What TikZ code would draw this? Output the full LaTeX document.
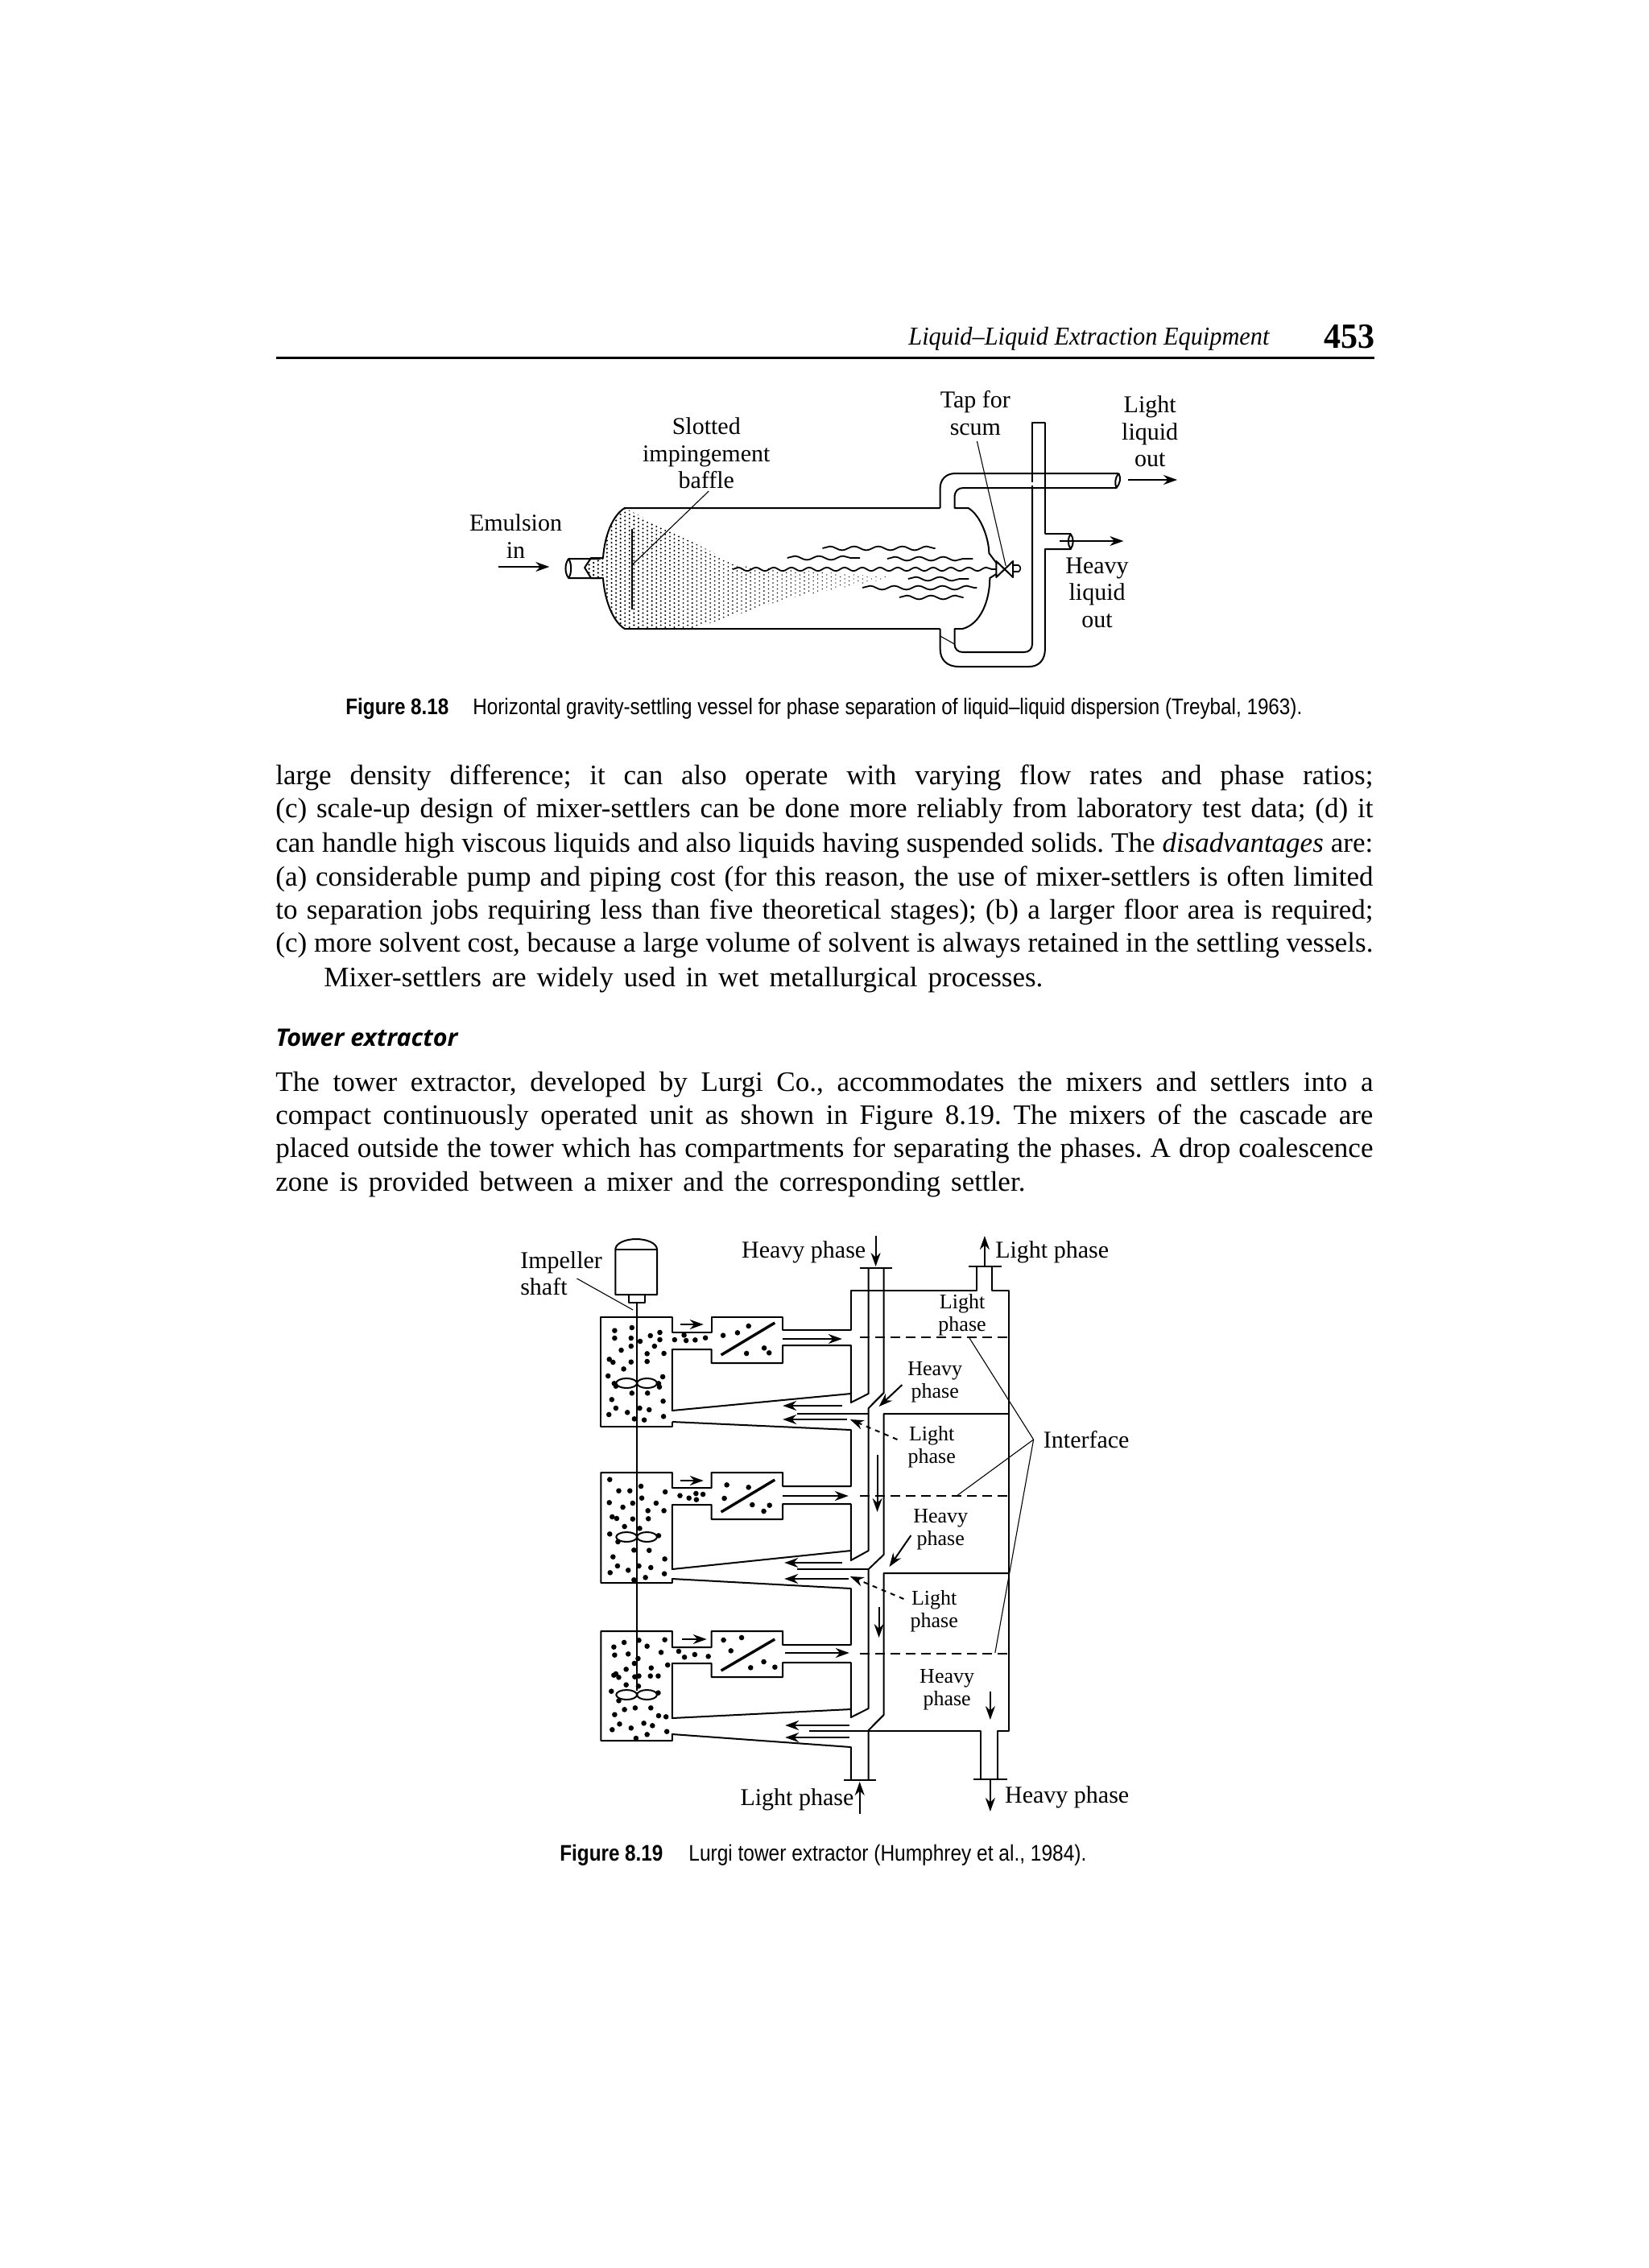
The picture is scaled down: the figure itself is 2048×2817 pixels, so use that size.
\documentclass[tikz,border=0pt]{standalone}
\usepackage{fontspec}
\usepackage{graphicx}
\setmainfont{Liberation Serif}
\newfontfamily\capfont{Liberation Sans}
\newfontfamily\headfont{Open Sans}
\usetikzlibrary{arrows.meta,decorations.pathmorphing}
\newlength\pxu \pxu=0.5pt
\newcommand{\bodyfont}{\fontsize{17.5}{21}\selectfont\frenchspacing\spaceskip=.25em plus 1em minus .1em\relax}
\newcommand{\bodyline}[4][1363]{\node[anchor=base west,inner sep=0,font=\bodyfont] (#2) at (342,#3) {\hbox to #1\pxu{#4}};}
\newcommand{\shortline}[5]{\node[anchor=base west,inner sep=0,font=\bodyfont] (#1) at (#2,#3) {\hbox to #4\pxu{#5}};}
\newcommand{\fitnode}[6]{\node[anchor=base west,inner sep=0,font=#5] (#1) at (#2,#3) {\resizebox{#4\pxu}{\height}{#6}};}
\newcommand{\blobsA}[1]{\foreach \X/\Y in {#1}{\fill ({620+\X/1.95},{1510+\Y/3}) circle[radius=3.3];}}
\newcommand{\blobsB}[1]{\foreach \X/\Y in {#1}{\fill ({620+\X/1.95},{1960+\Y/3}) circle[radius=3.3];}}
\newcommand{\impel}[1]{\draw[pipe] (779,#1) ellipse[x radius=13,y radius=6]; \draw[pipe] (804.5,#1) ellipse[x radius=12.5,y radius=6];}
\tikzset{
 pipe/.style={draw=black,line width=1pt,line join=round},
 fine/.style={draw=black,line width=.55pt},
 hv/.style={draw=black,line width=1.2pt},
 flow/.style={draw=black,line width=1pt,-{Stealth[length=8.5pt,width=6pt]}},
 lab/.style={inner sep=0,align=center,font=\fontsize{15}{16.7}\selectfont},
 sm/.style={inner sep=0,align=center,font=\fontsize{13}{14}\selectfont},
 wav/.style={draw=black,line width=.9pt,decorate,decoration={snake,segment length=15pt,amplitude=1.2pt}},
}
\begin{document}
\begin{tikzpicture}[x=0.5pt,y=-0.5pt]
\path[use as bounding box,fill=white] (0,0) rectangle (2048,2817);
% header
\fitnode{hd}{1128}{428}{448}{\fontsize{16}{18}\selectfont\itshape}{Liquid–Liquid Extraction Equipment}
\fitnode{pg}{1644}{432}{63}{\fontsize{22}{24}\selectfont\bfseries}{453}
\draw[line width=1.5pt] (343,444) -- (1707,444);
% FIGURE 8.18
\begin{scope}[x=0.49725pt,xshift=1.54pt]
\begin{scope}
\clip (777,631) -- (861,673) -- (921,703) -- (1114,717) -- (982,743) -- (861,781) -- (777,781) .. controls (762,772) and (752,745) .. (750,717) -- (735,718) -- (727,705) -- (735,693) -- (750,693) .. controls (752,665) and (762,640) .. (777,631) -- cycle;
\foreach \i in {0,...,70}{\foreach \j in {0,...,31}{
 \pgfmathsetmacro\xx{727+5.6*\i}\pgfmathsetmacro\yy{629+5*\j+2.5*mod(\i,2)}\pgfmathsetmacro\rr{1.3-0.7*\i/70}
 \fill[black] (\xx,\yy) circle[radius=\rr];}}
\end{scope}
% vessel
\draw[pipe] (1171,631) -- (777,631) .. controls (762,640) and (752,665) .. (750,693) -- (735,693) -- (727,705) -- (735,718) -- (750,718) .. controls (752,745) and (762,772) .. (777,781) -- (1171,781);
\draw[pipe] (747,694) -- (707,694) .. controls (702,700) and (702,712) .. (707,718) -- (747,718);
\draw[pipe] (707,694) .. controls (711,700) and (711,712) .. (707,718);
\draw[pipe] (1171,631) -- (1171,606) .. controls (1171,596) and (1178,588) .. (1190,588) -- (1394,588);
\draw[pipe] (1394,588) .. controls (1389,594) and (1389,600) .. (1391,606) -- (1200,606) .. controls (1193,606) and (1189,610) .. (1189,618) -- (1189,631) -- (1206,631) .. controls (1222,640) and (1232,670) .. (1232,687) -- (1241,699);
\draw[pipe] (1394,588) .. controls (1397,594) and (1396,600) .. (1391,606);
\draw[pipe] (1241,713) -- (1233,718) .. controls (1233,745) and (1222,775) .. (1199,781) -- (1189,781) -- (1189,800) .. controls (1189,806) and (1193,810) .. (1199,810) -- (1276,810) .. controls (1282,810) and (1286,806) .. (1286,800) -- (1286,606);
\draw[pipe] (1286,588) -- (1286,525) -- (1302,525) -- (1302,663) -- (1334,663);
\draw[pipe,dash pattern=on 5pt off 2pt] (1286,589) -- (1286,605);
\draw[pipe] (1334,663) .. controls (1330,669) and (1330,676) .. (1334,682) -- (1302,682) -- (1302,806) .. controls (1302,820) and (1294,828) .. (1282,828) -- (1194,828) .. controls (1180,828) and (1171,820) .. (1171,806) -- (1171,781);
\draw[pipe] (1334,663) .. controls (1338,669) and (1338,676) .. (1334,682);
\draw[fine] (1171,790) -- (1189,800);
\draw[pipe,dash pattern=on 5pt off 2pt] (1302,589) -- (1302,605);
\draw[pipe] (1241,697) -- (1262,717) -- (1262,697) -- (1241,717) -- cycle;
\draw[pipe,line width=.8pt] (1262,702) -- (1269,702) .. controls (1272,704) and (1272,708) .. (1269,710) -- (1262,710);
\draw[hv] (786,657) -- (786,757);
\draw[fine] (786,702) -- (882,610);
\draw[fine] (1217,548) -- (1253,703);
\draw[wav] (1024,681) -- (1165,681);
\draw[wav] (980,693) -- (1071,693);
\draw[wav] (1105,694) -- (1212,694);
\draw[wav,decoration={snake,segment length=11pt,amplitude=1.1pt}] (912,707) -- (1241,707);
\draw[wav] (1131,719) -- (1207,719);
\draw[wav] (1074,730) -- (1217,730);
\draw[wav] (1120,742) -- (1200,742);
\draw[flow] (619,704) -- (683,704);
\draw[flow] (1406,596) -- (1467,596);
\draw[flow] (1320,672) -- (1400,672);
\node[lab] (emul) at (641,666) {Emulsion\\in};
\node[lab] (slot) at (879,563) {Slotted\\impingement\\baffle};
\node[lab] (tap) at (1215,513) {Tap for\\scum};
\node[lab] (lightout) at (1433,536) {Light\\liquid\\out};
\node[lab] (heavyout) at (1367,736) {Heavy\\liquid\\out};
\end{scope}
% caption 8.18
\fitnode{c1a}{429}{887}{128}{\fontsize{14}{16}\selectfont\capfont\bfseries}{Figure 8.18}
\fitnode{c1b}{587}{887}{1030}{\fontsize{14}{16}\selectfont\capfont}{Horizontal gravity-settling vessel for phase separation of liquid–liquid dispersion (Treybal, 1963).}
% body
\bodyline{l1}{974}{large density difference; it can also operate with varying flow rates and phase ratios;}
\bodyline{l2}{1015}{(c) scale-up design of mixer-settlers can be done more reliably from laboratory test data; (d) it}
\bodyline{l3}{1058}{can handle high viscous liquids and also liquids having suspended solids. The \textit{disadvantages} are:}
\bodyline{l4}{1100}{(a) considerable pump and piping cost (for this reason, the use of mixer-settlers is often limited}
\bodyline{l5}{1141}{to separation jobs requiring less than five theoretical stages); (b) a larger floor area is required;}
\bodyline{l6}{1182}{(c) more solvent cost, because a large volume of solvent is always retained in the settling vessels.}
\shortline{l7}{402}{1225}{893}{Mixer-settlers are widely used in wet metallurgical processes.}
\fitnode{th}{342}{1299}{226}{\fontsize{15}{18}\selectfont\headfont\bfseries\itshape}{Tower extractor}
\bodyline{l8}{1355}{The tower extractor, developed by Lurgi Co., accommodates the mixers and settlers into a}
\bodyline{l9}{1396}{compact continuously operated unit as shown in Figure 8.19. The mixers of the cascade are}
\bodyline{l10}{1437}{placed outside the tower which has compartments for separating the phases. A drop coalescence}
\shortline{l11}{342}{1479}{931}{zone is provided between a mixer and the corresponding settler.}
% FIGURE 8.19
\begin{scope}[x=0.49745pt,xshift=1.58pt]
% motor and shaft
\draw[pipe] (765,1608) -- (765,1552) .. controls (765,1544) and (778,1539) .. (791,1539) .. controls (804,1539) and (817,1544) .. (817,1552) -- (817,1608) -- cycle;
\draw[pipe] (765,1552) -- (817,1552);
\draw[pipe] (782,1608) rectangle (802,1618);
\draw[pipe,line width=.8pt] (792,1618) -- (792,2100);
\impel{1718}\impel{1909}\impel{2105}
% stage 1
\draw[pipe] (1216,1573) -- (1216,1603) -- (1059,1603) -- (1059,1652) -- (974,1652) -- (974,1636) -- (885,1636) -- (885,1655) -- (836,1655) -- (836,1636) -- (747,1636) -- (747,1772) -- (836,1772) -- (836,1766);
\draw[pipe] (1059,1731) -- (836,1752) -- (836,1676) -- (885,1676) -- (885,1693) -- (974,1693) -- (974,1671) -- (1059,1671) -- (1059,1742) -- (1081,1731) -- (1081,1575);
\draw[pipe] (1100,1575) -- (1100,1730) -- (1081,1749) -- (1081,1926) -- (1059,1938) -- (1059,1868) -- (974,1868) -- (974,1887) -- (885,1887) -- (885,1869) -- (836,1869) -- (836,1949) -- (1059,1926);
\draw[pipe] (836,1766) -- (1059,1776) -- (1059,1846) -- (974,1846) -- (974,1829) -- (885,1829) -- (885,1848) -- (836,1848) -- (836,1829) -- (747,1829) -- (747,1966) -- (836,1966) -- (836,1961) -- (1059,1973) -- (1059,2043) -- (974,2043) -- (974,2026) -- (885,2026) -- (885,2046) -- (836,2046) -- (836,2026) -- (747,2026) -- (747,2162) -- (836,2162) -- (836,2154) -- (1059,2170) -- (1059,2211);
\draw[pipe] (992,1756) -- (1081,1756);
\draw[pipe] (1256,1756) -- (1100,1756) -- (1100,1931) -- (1081,1949) -- (1081,2122) -- (1059,2133) -- (1059,2065) -- (974,2065) -- (974,2083) -- (885,2083) -- (885,2066) -- (836,2066) -- (836,2134) -- (1059,2123);
\draw[pipe] (992,1949) -- (1081,1949);
\draw[pipe] (1256,1954) -- (1100,1954) -- (1100,2130) -- (1081,2149) -- (1081,2211);
\draw[pipe] (1007,2150) -- (1221,2150) -- (1221,2210);
\draw[pipe] (1235,1573) -- (1235,1603) -- (1256,1603) -- (1256,2150) -- (1242,2150) -- (1242,2210);
\draw[pipe,line width=1.3pt] (1070,1575) -- (1110,1575);
\draw[pipe,line width=1.3pt] (1206,1573) -- (1247,1573);
\draw[pipe,line width=1.3pt] (1050,2211) -- (1090,2211);
\draw[pipe,line width=1.3pt] (1212,2210) -- (1254,2210);
\draw[pipe,dash pattern=on 6pt off 3.5pt] (1070,1661) -- (1256,1661);
\draw[pipe,dash pattern=on 6pt off 3.5pt] (1070,1858) -- (1256,1858);
\draw[pipe,dash pattern=on 6pt off 3.5pt] (1070,2054) -- (1256,2054);
% settler blades
\draw[line width=1.7pt] (897,1683) -- (964,1643);
\draw[line width=1.7pt] (897,1878) -- (964,1838);
\draw[line width=1.7pt] (897,2075) -- (964,2036);
% dots
\blobsA{281/428,323/417,281/456,321/456,343/468,368/447,391/435,391/462,378/486,321/486,297/501,360/514,401/513,268/535,277/546,321/545,360/543,303/571,265/597,398/600,280/625,284/635,388/625,390/638,323/661,361/661,274/685,399/691,284/717,312/733,342/717,365/723,267/741,329/757,353/761,400/748,427/462,450/445,455/465,477/463,502/455,545/446,580/436,607/411,645/493,657/511,602/513}
\blobsA{269/983,345/1008,291/1025,318/1025,404/1029,347/1052,268/1069,325/1071,382/1071,301/1086,362/1099,401/1099,275/1122,286/1128,325/1130,363/1129,305/1158,342/1165,269/1186,388/1192,289/1215,328/1246,365/1247,277/1271,403/1279,288/1305,340/1305,369/1311,314/1321,270/1330,402/1334,328/1357,356/1348,440/1043,462/1052,479/1035,496/1038,480/1058,554/1003,607/1012,548/1053,616/1077,658/1079,644/1101}
\blobsB{304/240,340/232,403/230,279/257,360/254,281/287,314/283,394/277,338/300,329/318,410/324,309/340,370/335,284/357,279/362,291/370,330/368,340/365,368/365,387/365,309/398,339/403,273/422,387/428,291/457,305/490,331/484,369/484,281/509,388/513,406/517,293/544,352/541,373/550,275/565,321/559,408/572,360/583,333/597,437/273,451/295,476/285,509/292,546/231,590/222,564/271,644/312,612/334,671/332}
% flow arrows
\draw[flow] (846,1645) -- (875,1645);
\draw[flow] (974,1663) -- (1048,1663);
\draw[flow] (1048,1746) -- (974,1746);
\draw[flow] (1054,1763) -- (974,1763);
\draw[flow] (1092,1807) -- (1092,1878);
\draw[flow] (846,1839) -- (875,1839);
\draw[flow] (974,1858) -- (1056,1858);
\draw[flow] (1048,1941) -- (976,1941);
\draw[flow] (1056,1961) -- (976,1961);
\draw[flow] (848,2036) -- (879,2036);
\draw[flow] (977,2053) -- (1057,2053);
\draw[flow] (1057,2143) -- (977,2143);
\draw[flow] (1057,2158) -- (977,2158);
\draw[flow] (1094,1996) -- (1094,2034);
\draw[flow] (1233,2101) -- (1233,2136);
\draw[flow] (1090,1535) -- (1090,1573);
\draw[flow] (1226,1573) -- (1226,1535);
\draw[flow] (1070,2253) -- (1070,2213);
\draw[flow] (1233,2211) -- (1233,2250);
\draw[flow] (1123,1720) -- (1094,1747);
\draw[flow] (1134,1907) -- (1107,1946);
\draw[flow,dashed] (1117,1788) -- (1058,1763);
\draw[flow,dashed] (1125,1986) -- (1058,1958);
% leaders
\draw[fine] (717,1588) -- (787,1627);
\draw[fine] (1287,1788) -- (1207,1662);
\draw[fine] (1287,1788) -- (1191,1858);
\draw[fine] (1287,1788) -- (1239,2053);
% labels
\node[lab,anchor=base east] (h1) at (1078,1562) {Heavy phase};
\node[lab,anchor=base west] (l1a) at (1239,1562) {Light phase};
\node[lab,anchor=west,align=left] (imp) at (646,1582) {Impeller\\shaft};
\node[lab,anchor=west] (iface) at (1299,1788) {Interface};
\node[lab,anchor=base east] (l1b) at (1063,2242) {Light phase};
\node[lab,anchor=base west] (h1b) at (1251,2239) {Heavy phase};
\node[sm] (s1) at (1198,1633) {Light\\phase};
\node[sm] (s2) at (1164,1717) {Heavy\\phase};
\node[sm] (s3) at (1160,1797) {Light\\phase};
\node[sm] (s4) at (1171,1900) {Heavy\\phase};
\node[sm] (s5) at (1163,2001) {Light\\phase};
\node[sm] (s6) at (1179,2099) {Heavy\\phase};
\end{scope}
% caption 8.19
\fitnode{c2a}{695}{2311}{128}{\fontsize{14}{16}\selectfont\capfont\bfseries}{Figure 8.19}
\fitnode{c2b}{855}{2311}{494}{\fontsize{14}{16}\selectfont\capfont}{Lurgi tower extractor (Humphrey et al., 1984).}
\end{tikzpicture}
\end{document}
